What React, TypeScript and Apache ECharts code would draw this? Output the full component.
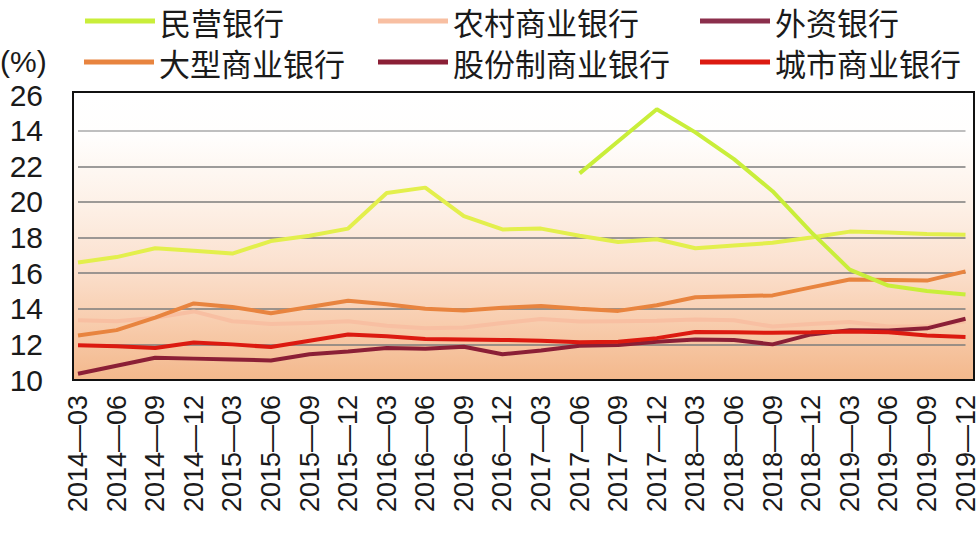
import React, { useEffect, useRef } from 'react';
import * as echarts from 'echarts';

const categories = [
  '2014—03', '2014—06', '2014—09', '2014—12',
  '2015—03', '2015—06', '2015—09', '2015—12',
  '2016—03', '2016—06', '2016—09', '2016—12',
  '2017—03', '2017—06', '2017—09', '2017—12',
  '2018—03', '2018—06', '2018—09', '2018—12',
  '2019—03', '2019—06', '2019—09', '2019—12',
];

const yMin = 10;
const yMax = 26;
const yStep = 2;
const yTickLabels = ['10', '12', '14', '16', '18', '20', '22', '14', '26'];

const minyingValues = [
  null, null, null, null, null, null, null, null, null, null, null, null, null,
  21.6, 23.4, 25.2, 23.9, 22.4, 20.6, 18.3, 16.2, 15.3, 15.0, 14.8,
];
const waiziValues = [
  16.6, 16.9, 17.4, 17.25, 17.1, 17.8, 18.1, 18.5, 20.5, 20.8, 19.2, 18.45,
  18.5, 18.1, 17.75, 17.9, 17.4, 17.55, 17.7, 18.0, 18.33, 18.28, 18.2, 18.15,
];
const dashangValues = [
  12.5, 12.8, 13.5, 14.3, 14.1, 13.75, 14.1, 14.45, 14.25, 14.0, 13.9, 14.05,
  14.15, 14.0, 13.88, 14.2, 14.65, 14.7, 14.75, 15.2, 15.64, 15.62, 15.58, 16.1,
];
const nongshangValues = [
  13.35, 13.3, 13.5, 13.85, 13.3, 13.15, 13.2, 13.3, 13.05, 12.9, 12.95, 13.2,
  13.42, 13.28, 13.3, 13.32, 13.4, 13.35, 13.0, 13.15, 13.25, 13.0, 13.0, 13.3,
];
const chengshangValues = [
  11.95, 11.9, 11.8, 12.1, 12.0, 11.85, 12.2, 12.55, 12.45, 12.3, 12.28, 12.25,
  12.2, 12.12, 12.15, 12.35, 12.7, 12.68, 12.65, 12.68, 12.72, 12.68, 12.5, 12.42,
];
const gufenValues = [
  10.35, 10.8, 11.25, 11.2, 11.15, 11.1, 11.45, 11.6, 11.8, 11.75, 11.87, 11.45,
  11.65, 11.92, 11.97, 12.15, 12.28, 12.25, 12.0, 12.56, 12.8, 12.78, 12.9, 13.44,
];

const C_MINYING = '#c9ee3a';
const C_WAIZI_LINE = '#e3ef4c';
const C_WAIZI_LEGEND = '#8b2f4c';
const C_DASHANG = '#e8843f';
const C_NONGSHANG = '#f8bfa2';
const C_GUFEN = '#8b1f36';
const C_CHENGSHANG = '#dc1a10';

const legendDefs = [
  { name: '民营银行', color: C_MINYING, left: 85, top: 5 },
  { name: '农村商业银行', color: C_NONGSHANG, left: 378, top: 5 },
  { name: '外资银行', color: C_WAIZI_LEGEND, left: 700, top: 5 },
  { name: '大型商业银行', color: C_DASHANG, left: 84, top: 46 },
  { name: '股份制商业银行', color: C_GUFEN, left: 378, top: 46 },
  { name: '城市商业银行', color: C_CHENGSHANG, left: 700, top: 46 },
];

function lineSeries(name: string, data: (number | null)[], color: string) {
  return {
    type: 'line',
    name,
    data,
    symbol: 'none',
    connectNulls: false,
    itemStyle: { color },
    lineStyle: { color, width: 4 },
    emphasis: { disabled: true },
  };
}

export default function App() {
  const ref = useRef<HTMLDivElement>(null);

  useEffect(() => {
    if (!ref.current) return;
    const chart = echarts.init(ref.current, null, { renderer: 'svg' });

    const box = { x: 73, y: 92, width: 901, height: 288 };

    const option: any = {
      animation: false,
      backgroundColor: '#ffffff',
      grid: { left: 78, right: 11, top: 95, bottom: 170, containLabel: false },
      legend: legendDefs.map((d) => ({
        data: [{ name: d.name, icon: 'rect', itemStyle: { color: d.color } }],
        left: d.left,
        top: d.top,
        padding: 0,
        itemWidth: 70,
        itemHeight: 5,
        selectedMode: false,
        textStyle: {
          fontFamily: 'Noto Sans CJK SC',
          fontSize: 31,
          lineHeight: 32,
          color: '#1a1a1a',
        },
      })),
      xAxis: {
        type: 'category',
        data: categories,
        boundaryGap: false,
        axisLine: { show: false },
        axisTick: { show: false },
        axisLabel: {
          rotate: 90,
          interval: 0,
          margin: 15,
          fontFamily: 'Liberation Sans',
          fontSize: 27,
          color: '#1a1a1a',
        },
        splitLine: { show: false },
      },
      yAxis: {
        type: 'value',
        min: yMin,
        max: yMax,
        interval: yStep,
        axisLine: { show: false },
        axisTick: { show: false },
        axisLabel: {
          margin: 35,
          fontFamily: 'Liberation Sans',
          fontSize: 30,
          color: '#1a1a1a',
          formatter: (v: number) => yTickLabels[Math.round((v - yMin) / yStep)] ?? '',
        },
        splitLine: {
          show: true,
          lineStyle: {
            width: 1.5,
            color: [
              'rgba(0,0,0,0)', '#7d7d7d', '#7d7d7d', '#7d7d7d', '#7d7d7d',
              '#7d7d7d', '#7d7d7d', '#aaaaaa', 'rgba(0,0,0,0)',
            ],
          },
        },
      },
      graphic: [
        {
          type: 'rect',
          z: -10,
          silent: true,
          shape: box,
          style: {
            fill: new echarts.graphic.LinearGradient(0, 0, 0, 1, [
              { offset: 0, color: '#ffffff' },
              { offset: 0.15, color: '#fffefd' },
              { offset: 0.4, color: '#fdf0e6' },
              { offset: 0.6, color: '#fbe1cf' },
              { offset: 0.8, color: '#f8cdae' },
              { offset: 1, color: '#f3b88c' },
            ]),
          },
        },
        {
          type: 'rect',
          z: 100,
          silent: true,
          shape: box,
          style: { fill: 'none', stroke: '#111111', lineWidth: 2 },
        },
        {
          type: 'text',
          z: 100,
          silent: true,
          x: 0,
          y: 61,
          style: {
            text: '(%)',
            fontFamily: 'Liberation Sans',
            fontSize: 30,
            fill: '#1a1a1a',
            verticalAlign: 'middle',
            align: 'left',
          },
        },
      ],
      series: [
        lineSeries('农村商业银行', nongshangValues, C_NONGSHANG),
        lineSeries('大型商业银行', dashangValues, C_DASHANG),
        lineSeries('股份制商业银行', gufenValues, C_GUFEN),
        lineSeries('城市商业银行', chengshangValues, C_CHENGSHANG),
        lineSeries('外资银行', waiziValues, C_WAIZI_LINE),
        lineSeries('民营银行', minyingValues, C_MINYING),
      ],
    };

    chart.setOption(option);
    return () => chart.dispose();
  }, []);

  return (
    <div
      ref={ref}
      style={{ position: 'fixed', left: 0, top: 0, width: 979, height: 550 }}
    />
  );
}
